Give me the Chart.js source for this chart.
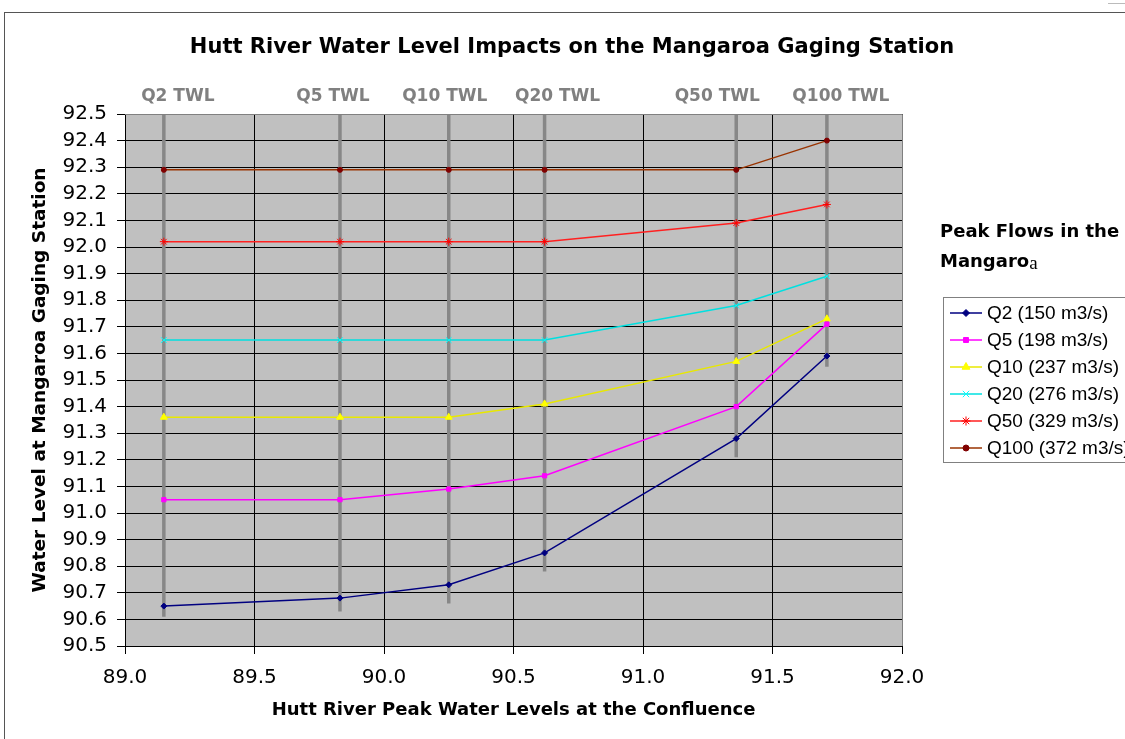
<!DOCTYPE html>
<html>
<head>
<meta charset="utf-8">
<script src="https://cdn.jsdelivr.net/npm/chart.js@4.4.1/dist/chart.umd.min.js"></script>
<style>
  html, body { margin: 0; padding: 0; background: #fff; }
  #wrap { position: relative; width: 1125px; height: 739px; overflow: hidden; }
  #frame { position: absolute; left: 4px; top: 12px; width: 1130px; height: 740px; border-top: 1px solid #555; border-left: 1px solid #555; }
  #corner { position: absolute; left: 1108px; top: 3px; width: 17px; border-top: 1px solid #bbb; }
  canvas { position: absolute; left: 0; top: 0; }
</style>
</head>
<body>
<div id="wrap">
  <div id="frame"></div>
  <div id="corner"></div>
  <canvas id="chart" width="1125" height="739"></canvas>
</div>
<script>
// ===== DATA =====
const huttLevels  = [89.15, 89.83, 90.25, 90.62, 91.36, 91.71];
const twlLabels   = ["Q2 TWL", "Q5 TWL", "Q10 TWL", "Q20 TWL", "Q50 TWL", "Q100 TWL"];
const twlBottom   = [90.61, 90.63, 90.66, 90.78, 91.21, 91.55];
const seriesNames = ["Q2 (150 m3/s)", "Q5 (198 m3/s)", "Q10 (237 m3/s)", "Q20 (276 m3/s)", "Q50 (329 m3/s)", "Q100 (372 m3/s)"];
const q2   = [90.65, 90.68, 90.73, 90.85, 91.28, 91.59];
const q5   = [91.05, 91.05, 91.09, 91.14, 91.40, 91.71];
const q10  = [91.36, 91.36, 91.36, 91.41, 91.57, 91.73];
const q20  = [91.65, 91.65, 91.65, 91.65, 91.78, 91.89];
const q50  = [92.02, 92.02, 92.02, 92.02, 92.09, 92.16];
const q100 = [92.29, 92.29, 92.29, 92.29, 92.29, 92.40];
const xMin = 89.0, xMax = 92.0, xStep = 0.5;
const yMin = 90.5, yMax = 92.5, yStep = 0.1;

// ===== STYLES =====
const FONT = "'DejaVu Sans', 'Liberation Sans', Arial, sans-serif";
const seriesValues = [q2, q5, q10, q20, q50, q100];
const lineColors   = ["#000080", "#FF00FF", "#E8E800", "#00E0E0", "#FF2020", "#993300"];
const markColors   = ["#000080", "#FF00FF", "#FFFF00", "#00FFFF", "#FF0000", "#800000"];
const markStyles   = ["rectRot", "rect", "triangle", "crossRot", "star", "circle"];
const markSizes    = [3, 3, 4, 4, 4, 2.5];
const twlLabelShift = [14, -7, -4, 13, -19, 14];   // px nudge of the TWL captions

const toPts = ys => huttLevels.map((x, i) => ({ x: x, y: ys[i] }));

const datasets = [];
seriesValues.forEach((ys, i) => {
  datasets.push({
    label: seriesNames[i],
    data: toPts(ys),
    borderColor: lineColors[i],
    backgroundColor: markColors[i],
    pointBackgroundColor: markColors[i],
    pointBorderColor: markColors[i],
    pointStyle: markStyles[i],
    pointRadius: markSizes[i],
    pointBorderWidth: 1,
    borderWidth: 1.5,
    showLine: true,
    tension: 0,
    order: 1
  });
});
// grey TWL marker lines
huttLevels.forEach((x, i) => {
  datasets.push({
    label: twlLabels[i],
    data: [{ x: x, y: yMax }, { x: x, y: twlBottom[i] }],
    borderColor: "#878787",
    borderWidth: 3.5,
    pointRadius: 0,
    showLine: true,
    order: 10
  });
});

// ===== PLUGIN: plot bg, titles, TWL labels, legend =====
const decor = {
  id: "decor",
  beforeDraw(chart) {
    const { ctx, chartArea: a } = chart;
    ctx.save();
    ctx.fillStyle = "#C0C0C0";
    ctx.fillRect(a.left, a.top, a.right - a.left, a.bottom - a.top);
    ctx.restore();
  },
  afterDraw(chart) {
    const { ctx, chartArea: a } = chart;
    const xs = chart.scales.x;
    ctx.save();
    // plot border right/top
    ctx.strokeStyle = "#808080";
    ctx.lineWidth = 1;
    ctx.beginPath();
    ctx.moveTo(a.left, a.top + 0.5); ctx.lineTo(a.right + 0.5, a.top + 0.5); ctx.lineTo(a.right + 0.5, a.bottom);
    ctx.stroke();

    // main title
    ctx.fillStyle = "#000";
    ctx.textAlign = "center";
    ctx.textBaseline = "middle";
    ctx.font = "bold 21px " + FONT;
    ctx.fillText("Hutt River Water Level Impacts on the Mangaroa Gaging Station", 572, 48);

    // TWL labels
    ctx.fillStyle = "#808080";
    ctx.font = "bold 17px " + FONT;
    huttLevels.forEach((x, i) => ctx.fillText(twlLabels[i], xs.getPixelForValue(x) + twlLabelShift[i], 97));

    // legend title
    ctx.fillStyle = "#000";
    ctx.textAlign = "left";
    ctx.font = "bold 18px " + FONT;
    ctx.fillText("Peak Flows in the", 940, 232);
    ctx.fillText("Mangaro", 940, 262);
    const w = ctx.measureText("Mangaro").width;
    ctx.font = "19px 'Liberation Serif', 'DejaVu Serif', serif";
    ctx.fillText("a", 940 + w, 264);

    // legend box
    const bx = 943, by = 297, bh = 165, row = 27;
    ctx.fillStyle = "#fff";
    ctx.fillRect(bx, by, 200, bh);
    ctx.strokeStyle = "#808080";
    ctx.strokeRect(bx + 0.5, by + 0.5, 200, bh);
    ctx.font = "19px 'Liberation Sans', Arial, sans-serif";
    seriesNames.forEach((name, i) => {
      const y = 313 + i * row;
      ctx.strokeStyle = lineColors[i];
      ctx.lineWidth = 1.5;
      ctx.beginPath(); ctx.moveTo(950, y); ctx.lineTo(982, y); ctx.stroke();
      ctx.fillStyle = markColors[i];
      ctx.strokeStyle = markColors[i];
      ctx.lineWidth = 1;
      Chart.helpers.drawPoint(ctx, { pointStyle: markStyles[i], radius: markSizes[i] + 0.5, borderWidth: 1, rotation: 0 }, 966, y);
      ctx.fillStyle = "#000";
      ctx.fillText(name, 987, y + 1);
    });
    ctx.restore();
  }
};

new Chart(document.getElementById("chart"), {
  type: "scatter",
  data: { datasets: datasets },
  plugins: [decor],
  options: {
    responsive: false,
    animation: false,
    devicePixelRatio: 1,
    layout: { padding: { top: 114, right: 223, left: 0, bottom: 0 } },
    plugins: { legend: { display: false }, tooltip: { enabled: false }, title: { display: false } },
    scales: {
      x: {
        type: "linear", min: xMin, max: xMax,
        afterFit: s => { s.height = 93; },
        ticks: { stepSize: xStep, autoSkip: false, maxRotation: 0, padding: 12, color: "#000",
                 font: { family: FONT, size: 20 }, callback: v => v.toFixed(1) },
        grid: { color: "#000", lineWidth: 1, tickLength: 8, tickColor: "#000" },
        border: { color: "#000", width: 1 },
        title: { display: true, text: "Hutt River Peak Water Levels at the Confluence", color: "#000",
                 font: { family: FONT, size: 18, weight: "bold" }, padding: { top: 0, bottom: 18 } }
      },
      y: {
        type: "linear", min: yMin, max: yMax,
        afterFit: s => { s.width = 125; },
        ticks: { stepSize: yStep, autoSkip: false, padding: 10, color: "#000",
                 font: { family: FONT, size: 20 }, callback: v => v.toFixed(1) },
        grid: { color: "#000", lineWidth: 1, tickLength: 8, tickColor: "#000" },
        border: { color: "#000", width: 1 },
        title: { display: true, text: "Water Level at Mangaroa Gaging Station", color: "#000",
                 font: { family: FONT, size: 18.5, weight: "bold" }, padding: { top: 29, bottom: 0 } }
      }
    }
  }
});
</script>
</body>
</html>
